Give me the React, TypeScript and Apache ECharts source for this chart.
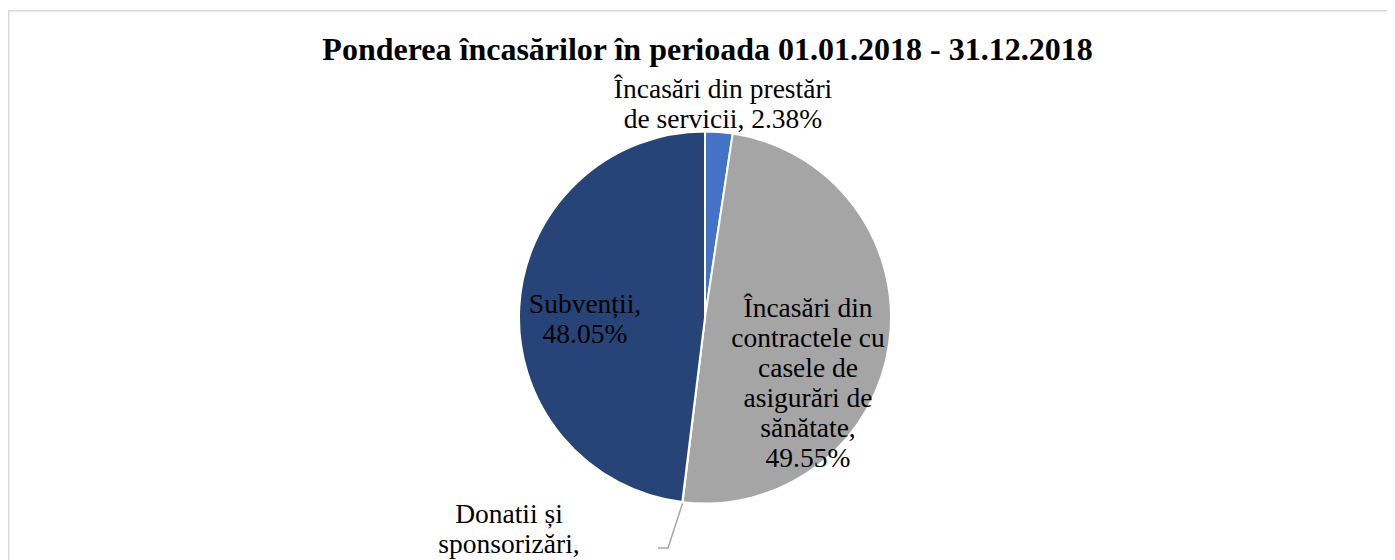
import React, { useEffect, useRef } from "react";
import * as echarts from "echarts";

const titleText = "Ponderea încasărilor în perioada 01.01.2018 - 31.12.2018";
const categories = [
  "Încasări din prestări de servicii",
  "Încasări din contractele cu casele de asigurări de sănătate",
  "Donatii și sponsorizări",
  "Subvenții",
];
const labelNames = [
  "Încasări din prestări\nde servicii",
  "Încasări din\ncontractele cu\ncasele de\nasigurări de\nsănătate",
  "Donatii și\nsponsorizări",
  "Subvenții",
];
const labelSeparators = [", ", ",\n", ",\n", ",\n"];
const values = [2.38, 49.55, 0.02, 48.05];
const colors = ["#4472C4", "#A5A5A5", "#ED7D31", "#264478"];

// layout (pixels, chart coordinates)
const CX = 697;
const CY = 309.5;
const R = 186;
const labelOffsets = [
  [18, -214],
  [103, 65],
  [-196, 225.5],
  [-120, 0.5],
];
const leaderOffsets = [
  [-22, 184.5],
  [-37, 230.5],
  [-47, 230.5],
];

export default function App() {
  const ref = useRef<HTMLDivElement>(null);
  useEffect(() => {
    if (!ref.current) return;
    const chart = echarts.init(ref.current, null, { renderer: "svg" });
    chart.setOption({
      animation: false,
      title: {
        text: titleText,
        left: "center",
        top: 25,
        padding: 0,
        textStyle: {
          fontFamily: "Liberation Serif",
          fontWeight: "bold",
          fontSize: 32,
          color: "#000",
        },
      },
      graphic: [
        {
          type: "rect",
          shape: { x: 0.75, y: 2.75, width: 3000, height: 3000 },
          style: { fill: "none", stroke: "#d9d9d9", lineWidth: 1.5 },
          silent: true,
        },
      ],
      series: [
        {
          type: "pie",
          center: [CX, CY],
          radius: R,
          startAngle: 90,
          clockwise: true,
          minAngle: 0,
          avoidLabelOverlap: false,
          itemStyle: { borderColor: "#fff", borderWidth: 2 },
          label: {
            show: true,
            fontFamily: "Liberation Serif",
            fontSize: 27.5,
            lineHeight: 30,
            color: "#000",
            align: "center",
            formatter: (p: any) =>
              labelNames[p.dataIndex] +
              labelSeparators[p.dataIndex] +
              values[p.dataIndex].toFixed(2) +
              "%",
          },
          labelLine: { show: false },
          labelLayout: (p: any) => {
            const i = p.dataIndex;
            const o = labelOffsets[i];
            const res: any = {
              x: CX + o[0],
              y: CY + o[1],
              align: "center",
              verticalAlign: "middle",
            };
            if (i === 2) {
              res.labelLinePoints = leaderOffsets.map((l) => [CX + l[0], CY + l[1]]);
            }
            return res;
          },
          data: categories.map((name, i) => ({
            name,
            value: values[i],
            itemStyle: { color: colors[i] },
            label: { position: i === 0 || i === 2 ? "outside" : "inside" },
            labelLine:
              i === 2
                ? { show: true, length: 10, length2: 10, lineStyle: { color: "#A6A6A6", width: 1.5 } }
                : { show: false },
          })),
        },
      ],
    });
    return () => chart.dispose();
  }, []);
  return (
    <div style={{ width: 1387, height: 552, overflow: "hidden" }}>
      <div ref={ref} style={{ width: 1399, height: 600 }} />
    </div>
  );
}
